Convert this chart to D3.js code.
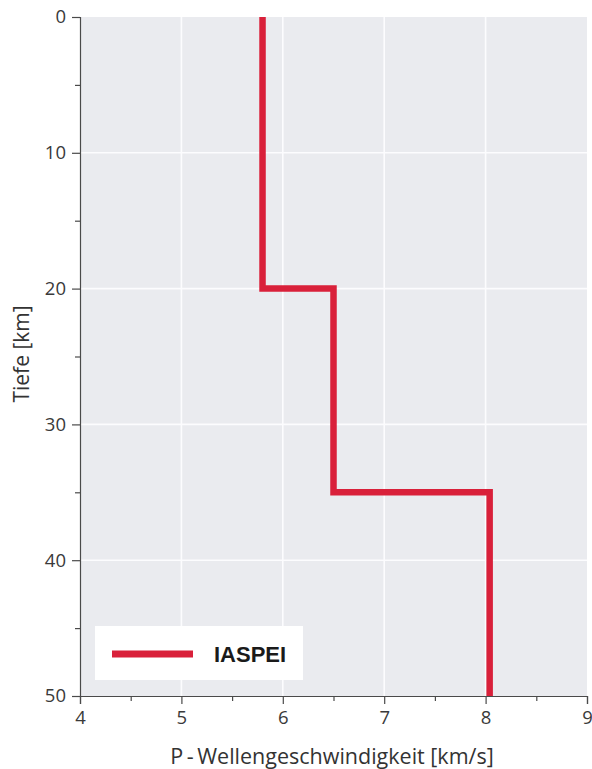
<!DOCTYPE html>
<html>
<head>
<meta charset="utf-8">
<script src="https://cdn.jsdelivr.net/npm/d3@7"></script>
<style>
  html, body { margin: 0; padding: 0; background: #ffffff; }
  svg { display: block; }
</style>
</head>
<body>
<svg id="chart" width="592" height="769"></svg>
<script>
// IASPEI 1-D P-wave velocity profile of the crust and uppermost mantle
const layerTops = [0, 20, 35];          // depth of each layer top [km]
const layerBottoms = [20, 35, 50];      // depth of each layer bottom [km]
const velocities = [5.8, 6.5, 8.04];    // P-wave velocity [km/s]

const xTicks = [4, 5, 6, 7, 8, 9];
const xMinorTicks = [4.5, 5.5, 6.5, 7.5, 8.5];
const yTicks = [0, 10, 20, 30, 40, 50];
const yMinorTicks = [5, 15, 25, 35, 45];

const legendLabel = "IASPEI";
const xTitle = "P\u2009-\u2009Wellengeschwindigkeit [km/s]";
const yTitle = "Tiefe [km]";

const svg = d3.select("#chart");
const margin = { left: 80, top: 17, right: 5, bottom: 73 };
const W = 592, H = 769;
const x = d3.scaleLinear().domain([4, 9]).range([margin.left, W - margin.right]);
const y = d3.scaleLinear().domain([0, 50]).range([margin.top, H - margin.bottom]);

const axisColor = "#4a4a4a";
const font = "'Open Sans', 'Noto Sans', sans-serif";

// plot background
svg.append("rect")
  .attr("x", x(4)).attr("y", y(0))
  .attr("width", x(9) - x(4)).attr("height", y(50) - y(0))
  .attr("fill", "#eaebef");

// white grid
const grid = svg.append("g").attr("stroke", "#fcfcfe").attr("stroke-width", 1.6);
grid.selectAll("line.v").data(xTicks.slice(1, -1)).join("line")
  .attr("x1", d => x(d)).attr("x2", d => x(d))
  .attr("y1", y(0)).attr("y2", y(50));
grid.selectAll("line.h").data(yTicks.slice(1, -1)).join("line")
  .attr("x1", x(4)).attr("x2", x(9))
  .attr("y1", d => y(d)).attr("y2", d => y(d));

// step profile
const profile = [];
velocities.forEach((v, i) => {
  profile.push([v, layerTops[i]]);
  profile.push([v, layerBottoms[i]]);
});
svg.append("path")
  .datum(profile)
  .attr("fill", "none")
  .attr("stroke", "#d9203a")
  .attr("stroke-width", 6.5)
  .attr("stroke-linejoin", "miter")
  .attr("d", d3.line().x(d => x(d[0])).y(d => y(d[1])));

// legend
const lg = svg.append("g");
lg.append("rect")
  .attr("x", 95).attr("y", 626).attr("width", 208).attr("height", 54)
  .attr("fill", "#ffffff");
lg.append("line")
  .attr("x1", 112).attr("x2", 193).attr("y1", 654).attr("y2", 654)
  .attr("stroke", "#d9203a").attr("stroke-width", 7);
lg.append("text")
  .attr("x", 214).attr("y", 662)
  .attr("font-family", "'Liberation Sans', Arial, sans-serif")
  .attr("font-weight", "bold").attr("font-size", 22)
  .attr("fill", "#1a1a1a")
  .text(legendLabel);

// axes
function styleAxis(g) {
  g.selectAll("path.domain").attr("stroke", axisColor).attr("stroke-width", 1.2);
  g.selectAll(".tick line").attr("stroke", axisColor).attr("stroke-width", 1.2);
  g.selectAll(".tick text").attr("fill", "#3a3a3a").attr("font-family", font).attr("font-size", 18.5);
}

const xAxis = svg.append("g").attr("transform", `translate(0,${y(50)})`)
  .call(d3.axisBottom(x).tickValues(xTicks).tickFormat(d3.format("d")).tickSize(8).tickPadding(7));
styleAxis(xAxis);
svg.append("g").attr("transform", `translate(0,${y(50)})`)
  .call(d3.axisBottom(x).tickValues(xMinorTicks).tickFormat("").tickSize(5))
  .call(g => { g.select("path.domain").remove(); g.selectAll(".tick line").attr("stroke", axisColor).attr("stroke-width", 1.2); });

const yAxis = svg.append("g").attr("transform", `translate(${x(4)},0)`)
  .call(d3.axisLeft(y).tickValues(yTicks).tickFormat(d3.format("d")).tickSize(8).tickPadding(6));
styleAxis(yAxis);
svg.append("g").attr("transform", `translate(${x(4)},0)`)
  .call(d3.axisLeft(y).tickValues(yMinorTicks).tickFormat("").tickSize(5))
  .call(g => { g.select("path.domain").remove(); g.selectAll(".tick line").attr("stroke", axisColor).attr("stroke-width", 1.2); });

// axis titles
svg.append("text")
  .attr("x", 332).attr("y", 764)
  .attr("text-anchor", "middle")
  .attr("font-family", font).attr("font-size", 21.5)
  .attr("fill", "#333")
  .text(xTitle);
svg.append("text")
  .attr("transform", `translate(29,${354}) rotate(-90)`)
  .attr("text-anchor", "middle")
  .attr("font-family", font).attr("font-size", 21)
  .attr("fill", "#333")
  .text(yTitle);
</script>
</body>
</html>
